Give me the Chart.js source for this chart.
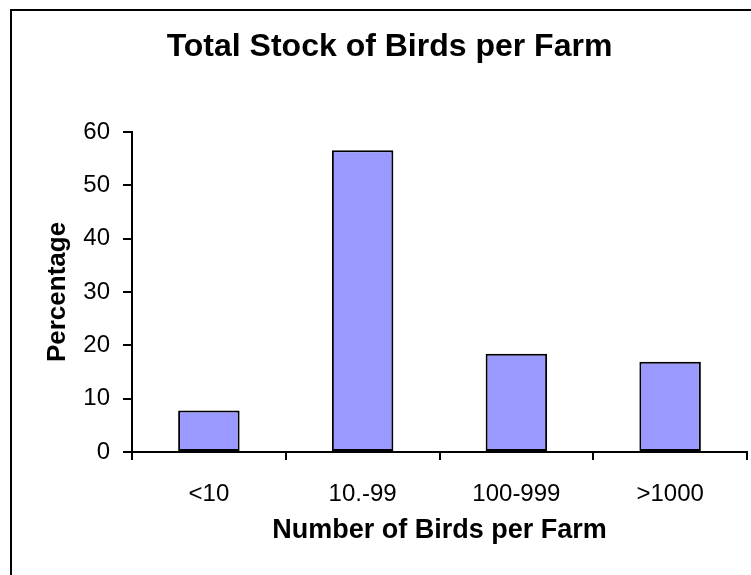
<!DOCTYPE html>
<html>
<head>
<meta charset="utf-8">
<script src="https://cdn.jsdelivr.net/npm/chart.js@4"></script>
<style>
  html, body { margin: 0; padding: 0; background: #fff; overflow: hidden; width: 751px; height: 575px; }
  #frame { position: absolute; left: 10px; top: 9px; border: 2px solid #000; background: #fff; }
  #frame canvas { display: block; }
</style>
</head>
<body>
<div id="frame">
  <canvas id="birdsChart" width="755" height="580"></canvas>
</div>
<script>
const categories = ['<10', '10.-99', '100-999', '>1000'];
const percentages = [7.8, 56.6, 18.4, 16.9];
const yTicks = [0, 10, 20, 30, 40, 50, 60];

const fontFamily = '"Liberation Sans", Arial, sans-serif';

new Chart(document.getElementById('birdsChart'), {
  type: 'bar',
  data: {
    labels: categories,
    datasets: [{
      data: percentages,
      backgroundColor: '#9999ff',
      borderColor: '#000000',
      borderWidth: 2,
      borderSkipped: false,
      categoryPercentage: 1,
      barPercentage: 0.4
    }]
  },
  options: {
    responsive: false,
    animation: false,
    devicePixelRatio: 1,
    layout: { padding: { left: 20, right: 20, top: 0, bottom: 0 } },
    plugins: {
      legend: { display: false },
      tooltip: { enabled: false },
      title: {
        display: true,
        text: 'Total Stock of Birds per Farm',
        color: '#000',
        font: { family: fontFamily, size: 32, weight: 'bold', lineHeight: 1.2 },
        padding: { top: 17, bottom: 65.6 }
      }
    },
    scales: {
      x: {
        grid: {
          display: true,
          drawOnChartArea: false,
          offset: true,
          tickLength: 8,
          color: '#000',
          lineWidth: 2
        },
        border: { display: true, color: '#000', width: 2 },
        ticks: {
          color: '#000',
          padding: 20,
          font: { family: fontFamily, size: 24 }
        },
        title: {
          display: true,
          text: 'Number of Birds per Farm',
          color: '#000',
          font: { family: fontFamily, size: 27, weight: 'bold', lineHeight: 1.2 },
          padding: { top: 0, bottom: 44 }
        },
        afterFit: (scale) => { scale.height = 139; }
      },
      y: {
        min: yTicks[0],
        max: yTicks[yTicks.length - 1],
        afterBuildTicks: (scale) => { scale.ticks = yTicks.map(v => ({ value: v })); },
        grid: {
          display: true,
          drawOnChartArea: false,
          tickLength: 9,
          color: '#000',
          lineWidth: 2
        },
        border: { display: true, color: '#000', width: 2 },
        ticks: {
          color: '#000',
          padding: 13,
          font: { family: fontFamily, size: 24 }
        },
        title: {
          display: true,
          text: 'Percentage',
          color: '#000',
          font: { family: fontFamily, size: 26, weight: 'bold', lineHeight: 1.2 },
          padding: { top: 10, bottom: 0 }
        },
        afterFit: (scale) => { scale.width = 100; }
      }
    }
  }
});
</script>
</body>
</html>
